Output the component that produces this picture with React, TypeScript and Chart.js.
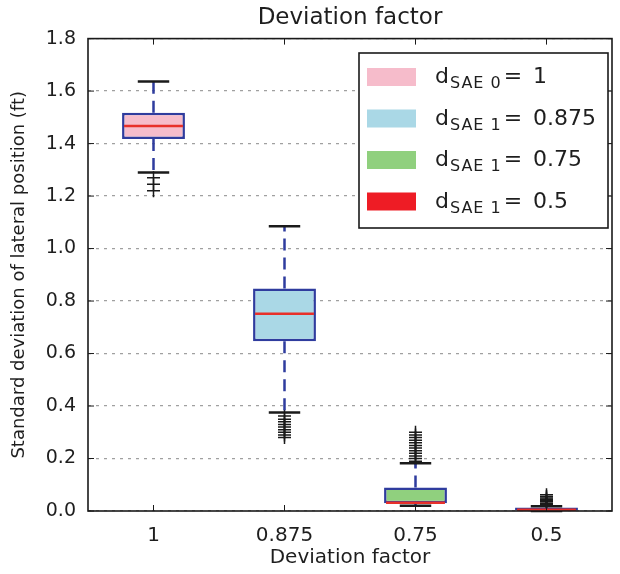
import React, { useEffect, useRef } from 'react';
import { Chart, registerables } from 'chart.js';

Chart.register(...registerables);

const FONT = "'DejaVu Sans', 'Liberation Sans', sans-serif";

// Data
const categories = ['1', '0.875', '0.75', '0.5'];
const q1 = [1.417, 0.647, 0.03, 0.0];
const q3 = [1.517, 0.848, 0.09, 0.013];
const medians = [1.467, 0.752, 0.031, 0.005];
const whiskerLow = [1.29, 0.375, 0.02, 0.0];
const whiskerHigh = [1.637, 1.085, 0.182, 0.018];
const outliers1 = [1.27, 1.245, 1.22];
const outliers0875 = [0.362, 0.35, 0.34, 0.33, 0.32, 0.31, 0.3, 0.29, 0.28];
const outliers075 = [0.19, 0.2, 0.21, 0.22, 0.23, 0.24, 0.25, 0.26, 0.27, 0.28, 0.29, 0.3];
const outliers05 = [0.025, 0.03, 0.035, 0.04, 0.045, 0.05, 0.055, 0.062];
const outliers = [outliers1, outliers0875, outliers075, outliers05];
const boxColors = ['#f6bccb', '#aad8e6', '#90d07e', '#ee1c25'];
const legendMain = 'd';
const legendSubscripts = ['SAE 0', 'SAE 1', 'SAE 1', 'SAE 1'];
const legendValues = ['1', '0.875', '0.75', '0.5'];
const yMin = 0;
const yMax = 1.8;
const yStep = 0.2;

const EDGE = '#2f3c9e';
const MEDIAN = '#e8302a';
const INK = '#1a1a1a';
const TEXT = '#1e1e1e';

const boxPlugin = {
  id: 'boxExtras',
  afterDatasetsDraw(chart: any) {
    const { ctx, chartArea } = chart;
    const xs = chart.scales.x;
    const ys = chart.scales.y;
    const meta = chart.getDatasetMeta(0);
    const line = (x1: number, y1: number, x2: number, y2: number) => {
      ctx.beginPath();
      ctx.moveTo(x1, y1);
      ctx.lineTo(x2, y2);
      ctx.stroke();
    };
    ctx.save();
    categories.forEach((_, i) => {
      const cx = xs.getPixelForValue(i);
      const bar = meta.data[i];
      const half = bar.width / 2;
      // whiskers
      ctx.strokeStyle = EDGE;
      ctx.lineWidth = 2.5;
      ctx.setLineDash([12, 7]);
      if (whiskerHigh[i] > q3[i]) line(cx, ys.getPixelForValue(q3[i]), cx, ys.getPixelForValue(whiskerHigh[i]));
      if (whiskerLow[i] < q1[i]) line(cx, ys.getPixelForValue(q1[i]), cx, ys.getPixelForValue(whiskerLow[i]));
      ctx.setLineDash([]);
      // caps
      ctx.strokeStyle = INK;
      ctx.lineWidth = 2.5;
      const cw = half / 2;
      line(cx - cw, ys.getPixelForValue(whiskerHigh[i]), cx + cw, ys.getPixelForValue(whiskerHigh[i]));
      line(cx - cw, ys.getPixelForValue(whiskerLow[i]), cx + cw, ys.getPixelForValue(whiskerLow[i]));
      // median
      ctx.strokeStyle = MEDIAN;
      ctx.lineWidth = 2.5;
      line(cx - half + 2, ys.getPixelForValue(medians[i]), cx + half - 2, ys.getPixelForValue(medians[i]));
    });
    // frame
    ctx.strokeStyle = INK;
    ctx.lineWidth = 1.6;
    ctx.strokeRect(chartArea.left, chartArea.top, chartArea.right - chartArea.left, chartArea.bottom - chartArea.top);
    // inward ticks
    ctx.lineWidth = 1;
    ys.ticks.forEach((t: any) => {
      const py = ys.getPixelForValue(t.value);
      line(chartArea.left, py, chartArea.left + 6, py);
      line(chartArea.right, py, chartArea.right - 6, py);
    });
    categories.forEach((_, i) => {
      const px = xs.getPixelForValue(i);
      line(px, chartArea.top, px, chartArea.top + 6);
      line(px, chartArea.bottom, px, chartArea.bottom - 6);
    });
    ctx.restore();
  },
  afterDraw(chart: any) {
    const { ctx } = chart;
    ctx.save();
    const bx = 359, by = 53, bw = 249, bh = 175;
    ctx.fillStyle = '#ffffff';
    ctx.fillRect(bx, by, bw, bh);
    ctx.strokeStyle = INK;
    ctx.lineWidth = 1.6;
    ctx.strokeRect(bx, by, bw, bh);
    categories.forEach((_, i) => {
      const top = 68 + i * 41.5;
      ctx.fillStyle = boxColors[i];
      ctx.fillRect(367, top, 49, 18);
      const base = top + 15;
      ctx.fillStyle = TEXT;
      ctx.textBaseline = 'alphabetic';
      ctx.textAlign = 'left';
      ctx.font = `22px ${FONT}`;
      let x = 435;
      ctx.fillText(legendMain, x, base);
      x += ctx.measureText(legendMain).width + 1;
      ctx.font = `16px ${FONT}`;
      (ctx as any).letterSpacing = '1px';
      ctx.fillText(legendSubscripts[i], x, base + 5);
      x += ctx.measureText(legendSubscripts[i]).width + 2;
      (ctx as any).letterSpacing = '0px';
      ctx.font = `22px ${FONT}`;
      ctx.fillText('=', x, base);
      ctx.fillText(legendValues[i], 533, base);
    });
    ctx.restore();
  },
};

export default function App() {
  const ref = useRef<HTMLCanvasElement>(null);
  useEffect(() => {
    if (!ref.current) return;
    Chart.defaults.font.family = FONT;
    const outlierPoints = categories.flatMap((c, i) => outliers[i].map((v) => ({ x: c, y: v })));
    const chart = new Chart(ref.current, {
      type: 'bar',
      data: {
        labels: categories,
        datasets: [
          {
            type: 'bar',
            data: categories.map((_, i) => [q1[i], q3[i]]) as any,
            backgroundColor: boxColors,
            borderColor: EDGE,
            borderWidth: 2.5,
            borderSkipped: false,
            barPercentage: 0.48,
            categoryPercentage: 1,
            order: 2,
          } as any,
          {
            type: 'line',
            data: outlierPoints as any,
            showLine: false,
            pointStyle: 'cross',
            pointRadius: 6.5,
            pointBorderWidth: 1.5,
            pointBorderColor: INK,
            borderColor: INK,
            order: 1,
          } as any,
        ],
      },
      options: {
        responsive: false,
        animation: false,
        layout: { padding: { left: 0, right: 0, top: 0, bottom: 0 } },
        plugins: {
          legend: { display: false },
          tooltip: { enabled: false },
          title: {
            display: true,
            text: 'Deviation factor',
            fullSize: false,
            color: TEXT,
            font: { size: 23, weight: 'normal', family: FONT },
            padding: { top: 4, bottom: 7 },
          },
        },
        scales: {
          x: {
            type: 'category',
            offset: true,
            grid: { display: false },
            border: { display: false },
            ticks: { color: TEXT, font: { size: 20, family: FONT }, padding: 5, maxRotation: 0 },
            title: {
              display: true,
              text: 'Deviation factor',
              color: TEXT,
              font: { size: 20, family: FONT },
              padding: { top: 0, bottom: 4 },
            },
            afterFit: (s: any) => {
              s.height = 63;
            },
          },
          y: {
            min: yMin,
            max: yMax,
            z: 1,
            grid: { color: '#a0a0a0', lineWidth: 1.2, drawTicks: false },
            border: { display: false, dash: [3, 5] },
            ticks: {
              stepSize: yStep,
              color: TEXT,
              font: { size: 19, family: FONT },
              padding: 12,
              callback: (v: any) => Number(v).toFixed(1),
            },
            title: {
              display: true,
              text: 'Standard deviation of lateral position (ft)',
              color: TEXT,
              font: { size: 18, family: FONT },
              padding: { top: 9, bottom: 0 },
            },
            afterFit: (s: any) => {
              s.width = 88;
            },
          },
        },
      },
      plugins: [boxPlugin],
    });
    return () => chart.destroy();
  }, []);
  return (
    <div style={{ position: 'fixed', left: 0, top: 0, width: 620, height: 574, background: '#fff' }}>
      <canvas ref={ref} width={620} height={574} />
    </div>
  );
}
